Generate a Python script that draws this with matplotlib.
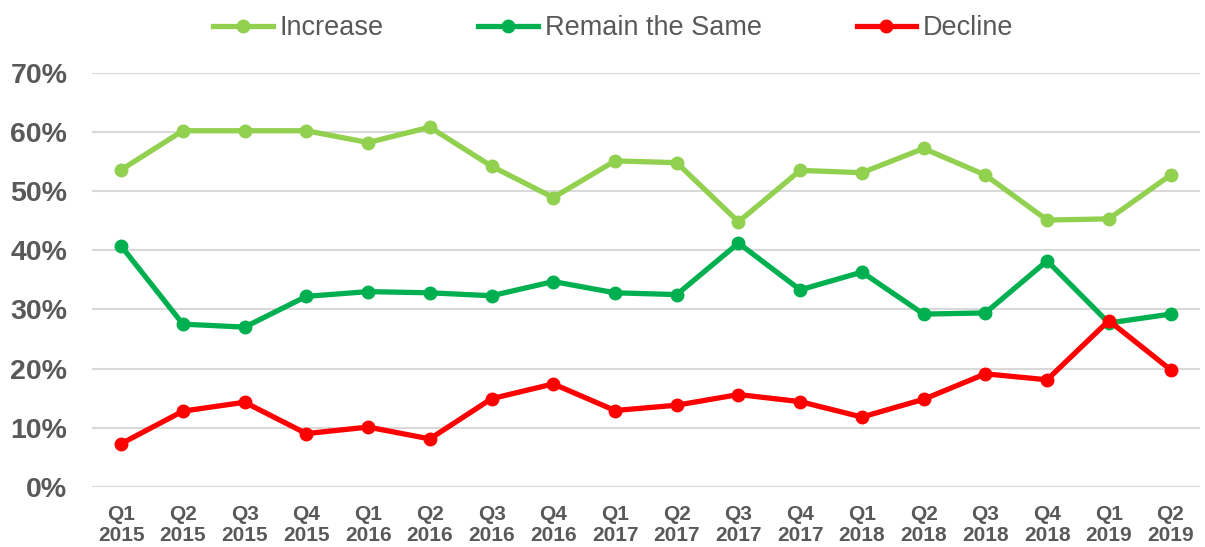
import matplotlib
matplotlib.use("Agg")
import matplotlib.pyplot as plt
from matplotlib import font_manager
from matplotlib.ticker import FuncFormatter

quarters = ["Q1\n2015", "Q2\n2015", "Q3\n2015", "Q4\n2015",
            "Q1\n2016", "Q2\n2016", "Q3\n2016", "Q4\n2016",
            "Q1\n2017", "Q2\n2017", "Q3\n2017", "Q4\n2017",
            "Q1\n2018", "Q2\n2018", "Q3\n2018", "Q4\n2018",
            "Q1\n2019", "Q2\n2019"]

increase = [53.6, 60.2, 60.2, 60.2, 58.2, 60.8, 54.2, 48.9, 55.1, 54.8,
            44.8, 53.5, 53.1, 57.2, 52.7, 45.1, 45.3, 52.7]
remain = [40.7, 27.5, 27.0, 32.2, 33.0, 32.8, 32.3, 34.7, 32.8, 32.5,
          41.2, 33.3, 36.3, 29.2, 29.4, 38.2, 27.7, 29.2]
decline = [7.3, 12.8, 14.3, 9.0, 10.1, 8.1, 14.9, 17.4, 12.9, 13.8,
           15.6, 14.4, 11.8, 14.8, 19.1, 18.1, 28.1, 19.8]

series_names = ["Increase", "Remain the Same", "Decline"]
colors = ["#92D050", "#00B050", "#FF0000"]

avail = {f.name for f in font_manager.fontManager.ttflist}
fam = "Liberation Sans Narrow" if "Liberation Sans Narrow" in avail else "Liberation Sans"
plt.rcParams["font.family"] = [fam, "DejaVu Sans"]

fig = plt.figure(figsize=(12.05, 5.47), dpi=100)
ax = fig.add_axes([0.076, 0.110, 0.920, 0.757])

x = list(range(len(quarters)))
for vals, name, c in zip([increase, remain, decline], series_names, colors):
    ax.plot(x, vals, color=c, lw=3.8, marker="o", markersize=9,
            solid_joinstyle="miter", label=name, zorder=3)

ax.set_xlim(-0.48, 17.48)
ax.set_ylim(0, 70)
ax.set_yticks(range(0, 71, 10))
ax.yaxis.set_major_formatter(FuncFormatter(lambda v, p: f"{int(v)}%"))
ax.set_xticks(x)
ax.set_xticklabels(quarters)
ax.grid(axis="y", color="#D9D9D9", lw=1.5)
ax.set_axisbelow(True)
for s in ax.spines.values():
    s.set_visible(False)
ax.tick_params(axis="both", length=0)
ax.tick_params(axis="y", labelsize=20.5, labelcolor="#595959", pad=17.5)
ax.tick_params(axis="x", labelsize=15, labelcolor="#595959", pad=13)
for lab in ax.get_yticklabels() + ax.get_xticklabels():
    lab.set_fontweight("bold")
for lab in ax.get_xticklabels():
    lab.set_linespacing(1.17)

leg = fig.legend(loc="upper center", bbox_to_anchor=(0.509, 1.017), ncol=3,
                 frameon=False, fontsize=19.5, handlelength=2.2,
                 columnspacing=3.5, handletextpad=0.25)
for t in leg.get_texts():
    t.set_color("#595959")

fig.savefig("out.png", dpi=100)
